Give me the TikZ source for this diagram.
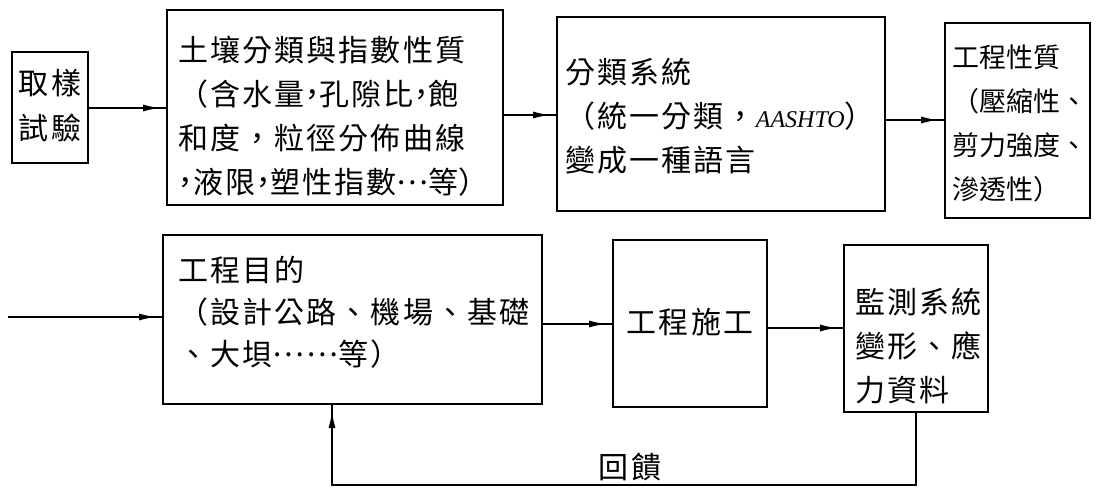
\documentclass[tikz,border=0pt]{standalone}
\usepackage{fontspec}
\setmainfont{Noto Sans CJK TC}
\newfontfamily\cjk[LetterSpace=7]{Noto Sans CJK TC}
\newfontfamily\cjkn{Noto Sans CJK TC}
\newfontfamily\latinserif{Liberation Serif}
\usetikzlibrary{decorations.markings, arrows.meta}
\newcommand\hw[1]{{\addfontfeature{RawFeature=+halt}#1}}
\newcommand\middots[1]{\raisebox{0.3em}{#1}}
\tikzset{
  box/.style={draw, line width=1.1pt, inner sep=0pt, outer sep=0pt, rectangle},
  txt/.style={inner sep=0pt, anchor=base west, align=left, font=\cjk\fontsize{15pt}{22pt}\selectfont},
  txtc/.style={inner sep=0pt, anchor=base, align=center, font=\cjk\fontsize{15pt}{22.5pt}\selectfont},
  txtsmall/.style={inner sep=0pt, anchor=base west, align=left, font=\cjkn\fontsize{13.5pt}{22pt}\selectfont},
  arrowmid/.style={line width=1pt, postaction={decorate},
    decoration={markings, mark=at position -3pt with {\arrow{Latex[length=9pt,width=3.5pt]}}}}
}
\begin{document}
\begin{tikzpicture}[x=0.5pt, y=-0.5pt]
\useasboundingbox (0,0) rectangle (1100,489);
% boxes
\node[box, minimum width=38pt,   minimum height=55.5pt] (b1) at (50,107.5) {};
\node[box, minimum width=168pt,  minimum height=97.5pt] (b2) at (335,107.5) {};
\node[box, minimum width=164pt,  minimum height=97pt]   (b3) at (721,114) {};
\node[box, minimum width=72.5pt, minimum height=97.5pt] (b4) at (1017.5,120.5) {};
\node[box, minimum width=189.5pt,minimum height=84.5pt] (b5) at (352.5,319.5) {};
\node[box, minimum width=77pt,   minimum height=83.5pt] (b6) at (690,323.5) {};
\node[box, minimum width=72pt,   minimum height=83.5pt] (b7) at (916,328.5) {};
% texts (anchored at the baseline of the last line)
\node[txtc] (t1) at (50,139.5) {取樣\\試驗};
\node[txt] (t2) at (178,193.5) {土壤分類與指數性質\\（含水量\hw{，}孔隙比\hw{，}飽\\和度，粒徑分佈曲線\\\hw{，}液限\hw{，}塑性指數\middots{⋯}等\hw{）}};
\node[txt] (t3) at (565,171.5) {分類系統\\（統一分類，{\latinserif\itshape\fontsize{12pt}{22pt}\selectfont AASHTO}）\\變成一種語言};
\node[txtsmall] (t4) at (952,199) {工程性質\\（壓縮性、\\剪力強度、\\滲透性）};
\node[txt, font=\cjk\fontsize{15pt}{21pt}\selectfont] (t5) at (178,365.5) {工程目的\\（設計公路、機場、基礎\\、大垻\middots{⋯⋯}等）};
\node[txtc] (t6) at (690,333.5) {工程施工};
\node[txt] (t7) at (855,401.5) {監測系統\\變形、應\\力資料};
\node[txtc] (fbl) at (630,478.5) {回饋};
% connectors
\draw[arrowmid] (b1.east |- 0,108) -- (b2.west |- 0,108);
\draw[arrowmid] (b2.east |- 0,115) -- (b3.west |- 0,115);
\draw[arrowmid] (b3.east |- 0,120) -- (b4.west |- 0,120);
\coordinate (in) at (8,317);
\draw[arrowmid] (in) -- (in -| b5.west);
\draw[arrowmid] (b5.east |- 0,324) -- (b6.west |- 0,324);
\draw[arrowmid] (b6.east |- 0,328) -- (b7.west |- 0,328);
\coordinate (fbr) at (b7.south |- 0,485);
\coordinate (fbl2) at (332,485);
\draw[arrowmid] (b7.south) -- (fbr) -- (fbl2) -- (fbl2 |- b5.south);
\end{tikzpicture}
\end{document}
